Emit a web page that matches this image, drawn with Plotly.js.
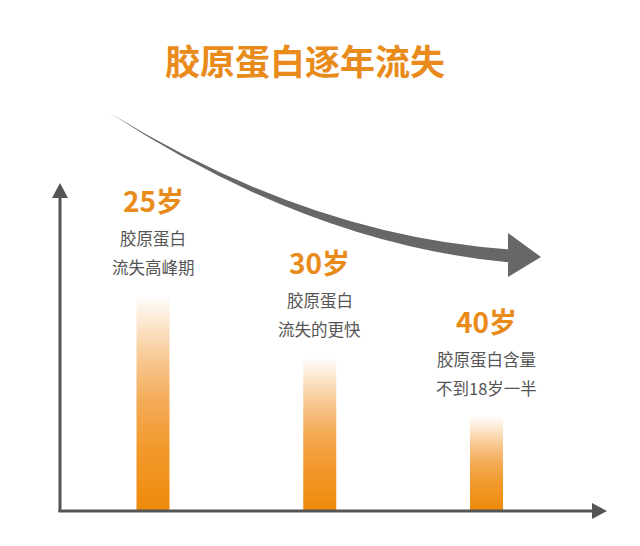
<!DOCTYPE html>
<html>
<head>
<meta charset="utf-8">
<script src="https://cdn.plot.ly/plotly-3.0.1.min.js"></script>
<style>
  html, body { margin: 0; padding: 0; background: #fff; }
  #plotly { width: 640px; height: 546px; }
</style>
</head>
<body>
<div id="plotly"></div>
<script>
// chart values
var ages = ['25岁', '30岁', '40岁'];
var levels = [66, 47, 29];          // relative collagen level (bar height)
var noteLine1 = ['胶原蛋白', '胶原蛋白', '胶原蛋白含量'];
var noteLine2 = ['流失高峰期', '流失的更快', '不到18岁一半'];
var chartTitle = '胶原蛋白逐年流失';

var TEXT_ORANGE = '#E98B1A';
var GREY = '#555555';
var FONT = 'Noto Sans CJK SC, Noto Sans, sans-serif';
// bottom -> top fade of each bar
var barFade = [[0, '#EF8A0A'], [0.3, '#F29A2E'], [0.5, '#F4AA55'], [0.72, '#F8CB98'], [1, '#FFFFFF']];

function plotChart() {
  var traces = [];
  var hw = 0.099;   // half bar width in slot units

  for (var i = 0; i < levels.length; i++) {
    var v = levels[i];
    traces.push({
      type: 'scatter',
      mode: 'none',
      x: [i - hw, i + hw, i + hw, i - hw, i - hw],
      y: [0, 0, v, v, 0],
      fill: 'toself',
      fillgradient: {type: 'vertical', start: 0, stop: v, colorscale: barFade},
      hoverinfo: 'skip',
      showlegend: false
    });
  }

  var annotations = [];
  for (var j = 0; j < ages.length; j++) {
    annotations.push({
      x: j, y: levels[j], xref: 'x', yref: 'y', yshift: 95,
      text: '<b>' + ages[j] + '</b>', showarrow: false,
      font: {family: FONT, size: 28, color: TEXT_ORANGE}
    });
    annotations.push({
      x: j, y: levels[j], xref: 'x', yref: 'y', yshift: 57,
      text: noteLine1[j], showarrow: false,
      font: {family: FONT, size: 16.5, color: GREY}
    });
    annotations.push({
      x: j, y: levels[j], xref: 'x', yref: 'y', yshift: 28,
      text: noteLine2[j], showarrow: false,
      font: {family: FONT, size: 16.5, color: GREY}
    });
  }

  // axes and the trend arrow are drawn on a pixel-sized overlay (x2/y2)
  var shapes = [
    {type: 'line', xref: 'x2', yref: 'y2', x0: 60, y0: 512, x1: 60, y1: 195,
     line: {color: GREY, width: 3}},
    {type: 'path', xref: 'x2', yref: 'y2', path: 'M52,198 L60,183 L68,198 Z',
     fillcolor: GREY, line: {width: 0}},
    {type: 'line', xref: 'x2', yref: 'y2', x0: 58.5, y0: 511, x1: 594, y1: 511,
     line: {color: GREY, width: 3}},
    {type: 'path', xref: 'x2', yref: 'y2', path: 'M592,503 L607,511 L592,519 Z',
     fillcolor: GREY, line: {width: 0}},
    {type: 'path', xref: 'x2', yref: 'y2',
     path: 'M110,113 Q310,236 510,249.5 L508,249.5 L508,233 L541,257 L508,277 ' +
           'L508,262.5 L510,262.5 Q310,244 110,113 Z',
     fillcolor: '#676767', line: {width: 0}}
  ];

  var layout = {
    width: 640, height: 546,
    margin: {l: 0, r: 0, t: 0, b: 0},
    paper_bgcolor: '#fff', plot_bgcolor: 'rgba(0,0,0,0)',
    showlegend: false,
    title: {
      text: '<b>' + chartTitle + '</b>',
      font: {family: FONT, size: 35, color: TEXT_ORANGE},
      x: 305 / 640, xanchor: 'center',
      y: 1 - 63 / 546, yanchor: 'middle', yref: 'container'
    },
    xaxis: {domain: [0, 1], range: [-0.9175, 2.9205], visible: false, fixedrange: true},
    yaxis: {domain: [0, 1], range: [-10.67, 155.79], visible: false, fixedrange: true},
    xaxis2: {domain: [0, 1], range: [0, 640], visible: false, anchor: 'y2', fixedrange: true},
    yaxis2: {domain: [0, 1], range: [546, 0], visible: false, anchor: 'x2', fixedrange: true},
    annotations: annotations,
    shapes: shapes
  };

  Plotly.newPlot('plotly', traces, layout, {displayModeBar: false, staticPlot: true});
}

plotChart();
</script>
</body>
</html>
